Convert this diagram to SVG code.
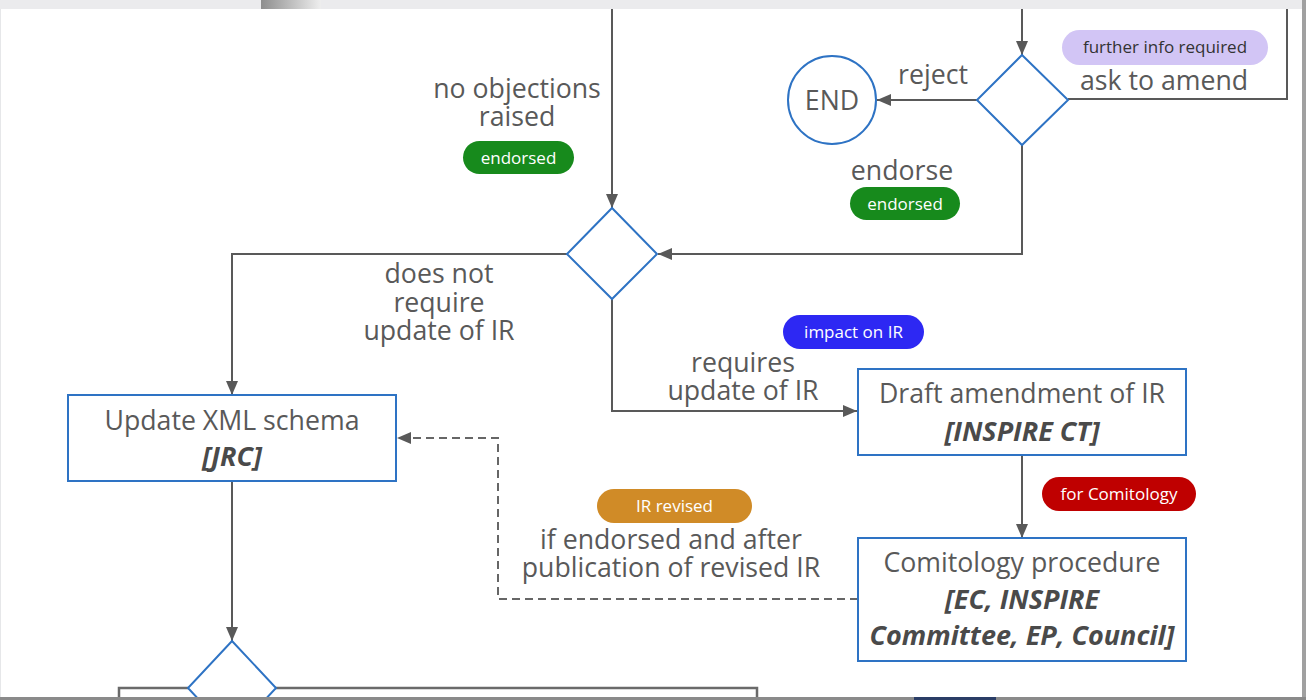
<svg xmlns="http://www.w3.org/2000/svg" width="1306" height="700" viewBox="0 0 1306 700">
  <style>
    .ln{fill:none;stroke:#595959;stroke-width:2}
    .dash{fill:none;stroke:#666;stroke-width:2;stroke-dasharray:8 5}
    .node{fill:#fff;stroke:#2e73c4;stroke-width:2}
    .lbl{font-family:"Open Sans","Liberation Sans",sans-serif;font-size:26.7px;fill:#595959;text-anchor:middle}
    .bi{font-family:"Open Sans","Liberation Sans",sans-serif;font-size:27px;font-weight:bold;font-style:italic;fill:#4a4a4a;text-anchor:middle}
    .pt{font-family:"Open Sans","Liberation Sans",sans-serif;font-size:17px;fill:#fff;text-anchor:middle}
  </style>
  <defs>
    <marker id="arr" viewBox="0 0 14 12" refX="14" refY="6" markerWidth="14" markerHeight="12" markerUnits="userSpaceOnUse" orient="auto">
      <path d="M0,0 L14,6 L0,12 Z" fill="#595959"/>
    </marker>
    <linearGradient id="tg" x1="0" x2="1" y1="0" y2="0">
      <stop offset="0" stop-color="#8e8e8e"/>
      <stop offset="1" stop-color="#eeeeee"/>
    </linearGradient>
  </defs>

  <!-- frame -->
  <rect x="0" y="0" width="1306" height="700" fill="#e6e7e9"/>
  <rect x="0" y="0" width="1306" height="9" fill="#ebebed"/>
  <rect x="261" y="0" width="60" height="9" fill="url(#tg)"/>
  <rect x="1302" y="0" width="4" height="700" fill="#a0a0a0"/>
  <rect x="1" y="9" width="1301" height="688" fill="#fff"/>

  <!-- connectors -->
  <g id="connectors">
    <path class="ln" d="M612,9 V208" marker-end="url(#arr)"/>
    <path class="ln" d="M1022,9 V55" marker-end="url(#arr)"/>
    <path class="ln" d="M1068,99 H1287 V9"/>
    <path class="ln" d="M977,100 H877" marker-end="url(#arr)"/>
    <path class="ln" d="M1022,145 V254 H658" marker-end="url(#arr)"/>
    <path class="ln" d="M567,254 H232 V395" marker-end="url(#arr)"/>
    <path class="ln" d="M612,299 V411 H857" marker-end="url(#arr)"/>
    <path class="ln" d="M1022,455 V538" marker-end="url(#arr)"/>
    <path class="dash" d="M858,599 H498 V438 H397" marker-end="url(#arr)"/>
    <path class="ln" d="M232,481 V641" marker-end="url(#arr)"/>
  </g>

  <!-- labels on connectors -->
  <g id="labels">
    <text class="lbl" x="517" y="98">no objections<tspan x="517" dy="28">raised</tspan></text>
    <text class="lbl" x="933" y="84">reject</text>
    <text class="lbl" x="1164" y="90">ask to amend</text>
    <text class="lbl" x="902" y="180">endorse</text>
    <text class="lbl" x="439" y="283">does not<tspan x="439" dy="28.5">require</tspan><tspan x="439" dy="28.5">update of IR</tspan></text>
    <text class="lbl" x="743" y="372">requires<tspan x="743" dy="28">update of IR</tspan></text>
    <text class="lbl" x="671" y="549">if endorsed and after<tspan x="671" dy="28">publication of revised IR</tspan></text>
  </g>

  <!-- pills -->
  <g id="pill-endorsed-1">
    <rect x="463" y="141" width="111" height="33" rx="16.5" fill="#178a1c"/>
    <text class="pt" x="518.5" y="164">endorsed</text>
  </g>
  <g id="pill-endorsed-2">
    <rect x="850" y="187" width="110" height="33" rx="16.5" fill="#178a1c"/>
    <text class="pt" x="905" y="210">endorsed</text>
  </g>
  <g id="pill-further-info">
    <rect x="1062" y="30" width="206" height="35" rx="17.5" fill="#d2c5f5"/>
    <text class="pt" x="1165" y="53" style="fill:#333">further info required</text>
  </g>
  <g id="pill-impact">
    <rect x="783" y="315" width="141" height="34" rx="17" fill="#2d28f3"/>
    <text class="pt" x="853.5" y="338">impact on IR</text>
  </g>
  <g id="pill-ir-revised">
    <rect x="597" y="489" width="155" height="34" rx="17" fill="#d08b27"/>
    <text class="pt" x="674.5" y="512">IR revised</text>
  </g>
  <g id="pill-comitology">
    <rect x="1042" y="477" width="154" height="34" rx="17" fill="#bf0000"/>
    <text class="pt" x="1119" y="500">for Comitology</text>
  </g>

  <!-- nodes -->
  <g id="end">
    <circle class="node" cx="832" cy="100" r="44"/>
    <text class="lbl" x="832" y="110">END</text>
  </g>
  <g id="decision-top">
    <path class="node" d="M1022,55 L1068,100 L1022,145 L977,100 Z"/>
  </g>
  <g id="decision-ir">
    <path class="node" d="M612,208 L657,254 L612,299 L567,254 Z"/>
  </g>
  <g id="update-xml">
    <rect class="node" x="68" y="395" width="328" height="86"/>
    <text class="lbl" x="232" y="430">Update XML schema</text>
    <text class="bi" x="232" y="466">[JRC]</text>
  </g>
  <g id="draft-amendment">
    <rect class="node" x="858" y="369" width="328" height="86"/>
    <text class="lbl" x="1022" y="403">Draft amendment of IR</text>
    <text class="bi" x="1022" y="441">[INSPIRE CT]</text>
  </g>
  <g id="comitology">
    <rect class="node" x="858" y="538" width="328" height="123"/>
    <text class="lbl" x="1022" y="572">Comitology procedure</text>
    <text class="bi" x="1022" y="609">[EC, INSPIRE<tspan x="1022" dy="36">Committee, EP, Council]</tspan></text>
  </g>
  <g id="bottom-box">
    <rect x="119" y="688" width="638" height="40" fill="#fff" stroke="#6a6a6a" stroke-width="2.5"/>
  </g>
  <g id="decision-bottom">
    <path class="node" d="M232,641 L276,688 L232,735 L188,688 Z"/>
  </g>
  <rect x="0" y="697" width="1306" height="3" fill="#8a8a8a"/>
  <rect x="914" y="697" width="82" height="3" fill="#2a3d66"/>
</svg>
